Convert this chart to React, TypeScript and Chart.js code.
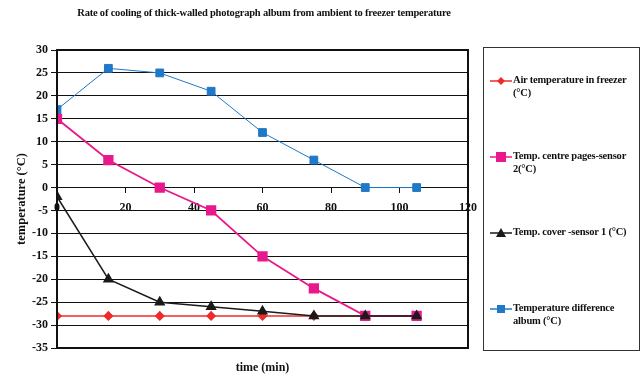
import React, { useEffect, useRef } from "react";
import { Chart, registerables } from "chart.js";

Chart.register(...registerables);

const timeMin = [0, 15, 30, 45, 60, 75, 90, 105];
const airFreezer = [-28, -28, -28, -28, -28, -28, -28, -28];
const centrePages = [15, 6, 0, -5, -15, -22, -28, -28];
const coverSensor = [-2, -20, -25, -26, -27, -28, -28, -28];
const tempDifference = [17, 26, 25, 21, 12, 6, 0, 0];

const titleText = "Rate of cooling of thick-walled photograph album from ambient to freezer temperature";
const xTitle = "time (min)";
const yTitle = "temperature (°C)";
const legendLabels = [
  "Air temperature in freezer (°C)",
  "Temp. centre pages-sensor 2(°C)",
  "Temp. cover -sensor 1 (°C)",
  "Temperature difference album (°C)",
];

const RED = "#ee2b2b";
const PINK = "#e8198c";
const BLACK = "#1a1a1a";
const BLUE = "#1f78c8";
const FONT = "'Liberation Serif', 'DejaVu Serif', serif";

const pts = (ys: number[]) => timeMin.map((x, i) => ({ x, y: ys[i] }));

const borderPlugin = {
  id: "areaBorder",
  afterDraw(chart: any) {
    const { ctx, chartArea } = chart;
    ctx.save();
    ctx.strokeStyle = "#111";
    ctx.lineWidth = 2;
    ctx.strokeRect(chartArea.left, chartArea.top, chartArea.right - chartArea.left, chartArea.bottom - chartArea.top);
    ctx.restore();
  },
};

export default function App() {
  const ref = useRef<HTMLCanvasElement>(null);
  useEffect(() => {
    document.body.style.margin = "0";
    const chart = new Chart(ref.current!, {
      type: "line",
      data: {
        datasets: [
          {
            label: legendLabels[0], data: pts(airFreezer), borderColor: RED, backgroundColor: RED,
            borderWidth: 1.5, pointStyle: "rectRot", pointRadius: 4, order: 2,
          },
          {
            label: legendLabels[1], data: pts(centrePages), borderColor: PINK, backgroundColor: PINK,
            borderWidth: 1.8, pointStyle: "rect", pointRadius: 6, order: 1,
          },
          {
            label: legendLabels[2], data: pts(coverSensor), borderColor: BLACK, backgroundColor: BLACK,
            borderWidth: 1.5, pointStyle: "triangle", pointRadius: 5, order: 0,
          },
          {
            label: legendLabels[3], data: pts(tempDifference), borderColor: BLUE, backgroundColor: BLUE,
            borderWidth: 1, pointStyle: "rect", pointRadius: 5.5, order: 3,
          },
        ],
      },
      options: {
        animation: false,
        responsive: false,
        layout: { padding: { left: 0, right: 174, top: 50, bottom: 30 } },
        plugins: { legend: { display: false }, tooltip: { enabled: false }, title: { display: false } },
        elements: { line: { tension: 0 }, point: { borderWidth: 0 } },
        scales: {
          x: {
            type: "linear",
            position: { y: 0 } as any,
            min: 0,
            max: 120,
            ticks: { stepSize: 20, color: "#111", font: { family: FONT, size: 12, weight: "bold" }, padding: 8 },
            grid: { drawOnChartArea: false, drawTicks: true, tickLength: 5, color: "#111" },
            border: { display: true, color: "#111", width: 1 },
          },
          y: {
            type: "linear",
            min: -35,
            max: 30,
            ticks: { stepSize: 5, color: "#111", font: { family: FONT, size: 12, weight: "bold" }, padding: 3 },
            grid: { color: "#111", lineWidth: 1, tickLength: 6 },
            border: { display: true, color: "#111", width: 2 },
            title: { display: true, text: yTitle, color: "#111", font: { family: FONT, size: 12.5, weight: "bold" }, padding: { top: 14, bottom: 4 } },
            afterFit: (s: any) => { s.width = 57; },
          },
        },
      },
      plugins: [borderPlugin],
    });
    return () => chart.destroy();
  }, []);

  const legendTops = [97, 173, 249, 325];
  return (
    <div style={{ position: "fixed", left: 0, top: 0, width: 642, height: 378, background: "#fff", fontFamily: FONT }}>
      <canvas ref={ref} width={642} height={378} style={{ position: "absolute", left: 0, top: 0 }} />
      <div style={{ position: "absolute", left: 0, width: 528, top: 7, textAlign: "center", fontWeight: "bold", fontSize: 10.5, letterSpacing: -0.2, color: "#111" }}>
        {titleText}
      </div>
      <div style={{ position: "absolute", left: 57, width: 411, top: 360, textAlign: "center", fontWeight: "bold", fontSize: 12, color: "#111" }}>
        {xTitle}
      </div>
      <div style={{ position: "absolute", left: 483, top: 47, width: 157, height: 304, border: "1px solid #333", boxSizing: "border-box" }} />
      {legendLabels.map((lab, i) => {
        const col = [RED, PINK, BLACK, BLUE][i];
        return (
          <div key={i} style={{ position: "absolute", left: 490, top: legendTops[i] - 24, width: 150 }}>
            <svg width={24} height={12} style={{ position: "absolute", left: 0, top: 2 }}>
              <line x1={0} y1={6} x2={22} y2={6} stroke={col} strokeWidth={1.5} />
              {i === 0 && <polygon points="11,2 15,6 11,10 7,6" fill={col} />}
              {i === 1 && <rect x={6} y={1} width={10} height={10} fill={col} />}
              {i === 2 && <polygon points="11,1 16,10 6,10" fill={col} />}
              {i === 3 && <rect x={7} y={2} width={8} height={8} fill={col} />}
            </svg>
            <div style={{ marginLeft: 23, fontWeight: "bold", fontSize: 10.5, letterSpacing: -0.2, lineHeight: "13px", color: "#111" }}>{lab}</div>
          </div>
        );
      })}
    </div>
  );
}
